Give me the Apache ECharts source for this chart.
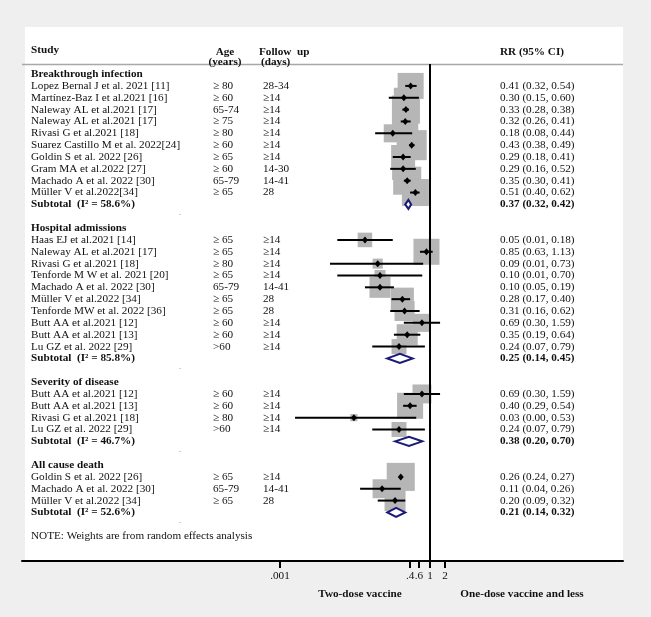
<!DOCTYPE html>
<html><head><meta charset="utf-8">
<script src="https://cdn.jsdelivr.net/npm/echarts@6/dist/echarts.min.js"></script>
<style>html,body{margin:0;padding:0;background:#efefef}#c{width:651px;height:617px}</style>
</head><body><div id="c"></div>
<script>
// ---------------- DATA ----------------
const groupNames = ['Breakthrough infection', 'Hospital admissions', 'Severity of disease', 'All cause death'];
const groupSizes = [10, 10, 4, 3];
const groupI2 = [58.6, 85.8, 46.7, 52.6];
const subtotalRR = [0.37, 0.25, 0.38, 0.21];
const subtotalLower = [0.32, 0.14, 0.20, 0.14];
const subtotalUpper = [0.42, 0.45, 0.70, 0.32];

const studyNames = [
  'Lopez Bernal J et al. 2021 [11]', 'Martínez-Baz I et al.2021 [16]', 'Naleway AL et al.2021 [17]',
  'Naleway AL et al.2021 [17]', 'Rivasi G et al.2021 [18]', 'Suarez Castillo M et al. 2022[24]',
  'Goldin S et al. 2022 [26]', 'Gram MA et al.2022 [27]', 'Machado A et al. 2022 [30]', 'Müller V et al.2022[34]',
  'Haas EJ et al.2021 [14]', 'Naleway AL et al.2021 [17]', 'Rivasi G et al.2021 [18]', 'Tenforde M W et al. 2021 [20]',
  'Machado A et al. 2022 [30]', 'Müller V et al.2022 [34]', 'Tenforde MW et al. 2022 [36]', 'Butt AA et al.2021 [12]',
  'Butt AA et al.2021 [13]', 'Lu GZ et al. 2022 [29]',
  'Butt AA et al.2021 [12]', 'Butt AA et al.2021 [13]', 'Rivasi G et al.2021 [18]', 'Lu GZ et al. 2022 [29]',
  'Goldin S et al. 2022 [26]', 'Machado A et al. 2022 [30]', 'Müller V et al.2022 [34]'
];
const ageLabels = [
  '≥ 80', '≥ 60', '65-74', '≥ 75', '≥ 80', '≥ 60', '≥ 65', '≥ 60', '65-79', '≥ 65',
  '≥ 65', '≥ 65', '≥ 80', '≥ 65', '65-79', '≥ 65', '≥ 65', '≥ 60', '≥ 60', '>60',
  '≥ 60', '≥ 60', '≥ 80', '>60',
  '≥ 65', '65-79', '≥ 65'
];
const followLabels = [
  '28-34', '≥14', '≥14', '≥14', '≥14', '≥14', '≥14', '14-30', '14-41', '28',
  '≥14', '≥14', '≥14', '≥14', '14-41', '28', '28', '≥14', '≥14', '≥14',
  '≥14', '≥14', '≥14', '≥14',
  '≥14', '14-41', '28'
];
const rrValues = [
  0.41, 0.30, 0.33, 0.32, 0.18, 0.43, 0.29, 0.29, 0.35, 0.51,
  0.05, 0.85, 0.09, 0.10, 0.10, 0.28, 0.31, 0.69, 0.35, 0.24,
  0.69, 0.40, 0.03, 0.24,
  0.26, 0.11, 0.20
];
const ciLower = [
  0.32, 0.15, 0.28, 0.26, 0.08, 0.38, 0.18, 0.16, 0.30, 0.40,
  0.014, 0.63, 0.01, 0.014, 0.05, 0.17, 0.16, 0.30, 0.19, 0.07,
  0.30, 0.29, 0.002, 0.07,
  0.24, 0.04, 0.09
];
const ciUpper = [
  0.54, 0.60, 0.38, 0.41, 0.44, 0.49, 0.41, 0.52, 0.41, 0.62,
  0.18, 1.13, 0.73, 0.70, 0.19, 0.40, 0.62, 1.59, 0.64, 0.79,
  1.59, 0.54, 0.53, 0.79,
  0.27, 0.26, 0.32
];
// relative box weights
const weights = [
  10.6, 6.3, 12.3, 10.6, 5.1, 14.1, 9.0, 7.6, 12.3, 11.4,
  3.3, 10.6, 1.6, 1.9, 6.9, 8.3, 6.3, 5.1, 6.9, 3.5,
  5.6, 10.6, 0.8, 3.5,
  12.3, 5.6, 6.9
];
const tickValues = [0.001, 0.4, 0.6, 1, 2];
const tickLabels = ['.001', '.4', '.6', '1', '2'];
const noteText = 'NOTE: Weights are from random effects analysis';
const leftLabel = 'Two-dose vaccine';
const rightLabel = 'One-dose vaccine and less';

// ---------------- BUILD ROWS ----------------
const rows = [];
let r = 0, s = 0;
groupNames.forEach((g, gi) => {
  rows.push({ type: 'header', row: r++, gi });
  for (let k = 0; k < groupSizes[gi]; k++, s++) rows.push({ type: 'study', row: r++, i: s });
  rows.push({ type: 'subtotal', row: r++, gi });
  rows.push({ type: 'blank', row: r++ });
});
rows.push({ type: 'note', row: r++ });

const L = Math.log10;
const studyRows = rows.filter(o => o.type === 'study');
const subRows = rows.filter(o => o.type === 'subtotal');
const studyData = studyRows.map(o => [L(rrValues[o.i]), L(ciLower[o.i]), L(ciUpper[o.i]), o.row, weights[o.i]]);
const subData = subRows.map(o => [L(subtotalRR[o.gi]), L(subtotalLower[o.gi]), L(subtotalUpper[o.gi]), o.row]);
const fmt = (a, b, c) => `${a.toFixed(2)} (${b.toFixed(2)}, ${c.toFixed(2)})`;

const FONT = '"Liberation Serif", "DejaVu Serif", serif';
const FS = 11.2;
const COL = { study: 31, age: 213, follow: 263, rr: 500, dot: 180 };
const BOX = 8;

function txt(x, y, text, bold, align) {
  return { type: 'text', x, y, style: { text, fontFamily: FONT, fontSize: FS, fontWeight: bold ? 'bold' : 'normal',
    fill: '#111', align: align || 'left', verticalAlign: 'middle' } };
}

const chart = echarts.init(document.getElementById('c'), null, { renderer: 'canvas' });
chart.setOption({
  animation: false,
  backgroundColor: '#efefef',
  graphic: [
    { type: 'rect', z: -10, shape: { x: 25, y: 27, width: 598, height: 534 }, style: { fill: '#ffffff' } },
    { type: 'line', z: -5, shape: { x1: 22, y1: 64.5, x2: 623, y2: 64.5 }, style: { stroke: '#a8a8a8', lineWidth: 1.5 } },
    Object.assign(txt(31, 50, 'Study', true), { z: 5 }),
    Object.assign(txt(225, 52, 'Age', true, 'center'), { z: 5 }),
    Object.assign(txt(225, 62, '(years)', true, 'center'), { z: 5 }),
    Object.assign(txt(259, 52, 'Follow  up', true), { z: 5 }),
    Object.assign(txt(261, 62, '(days)', true), { z: 5 }),
    Object.assign(txt(500, 52, 'RR (95% CI)', true), { z: 5 }),
    Object.assign(txt(360, 594, leftLabel, true, 'center'), { z: 5 }),
    Object.assign(txt(522, 594, rightLabel, true, 'center'), { z: 5 })
  ],
  grid: { left: 22, right: 28, top: 64, bottom: 56, containLabel: false },
  xAxis: {
    type: 'value', min: (22 - 430) / 50, max: (623 - 430) / 50, position: 'bottom',
    axisLine: { show: true, onZero: false, lineStyle: { color: '#000', width: 2 } },
    axisTick: { show: true, customValues: tickValues.map(L), length: 7, inside: false, lineStyle: { color: '#000', width: 2 } },
    axisLabel: { show: true, customValues: tickValues.map(L), margin: 10, color: '#111', fontFamily: FONT, fontSize: FS,
      formatter: v => { let bi = 0; tickValues.forEach((t, i) => { if (Math.abs(L(t) - v) < Math.abs(L(tickValues[bi]) - v)) bi = i; }); return tickLabels[bi]; } },
    splitLine: { show: false }
  },
  yAxis: { type: 'value', inverse: true, min: -0.85, max: 41.1, show: false, axisLine: { onZero: false }, splitLine: { show: false } },
  series: [
    { // weight boxes
      type: 'custom', clip: false, z: 2, data: studyData,
      renderItem: (p, api) => {
        const c = api.coord([api.value(0), api.value(3)]);
        const sd = BOX * Math.sqrt(api.value(4));
        return { type: 'rect', shape: { x: c[0] - sd / 2, y: c[1] - sd / 2, width: sd, height: sd }, style: { fill: '#b6b6b6' } };
      },
      markLine: { silent: true, symbol: 'none', label: { show: false }, lineStyle: { color: '#000', width: 2, type: 'solid' }, data: [{ xAxis: 0 }] }
    },
    { // CI lines + point estimates
      type: 'custom', clip: false, z: 3, data: studyData,
      renderItem: (p, api) => {
        const c = api.coord([api.value(0), api.value(3)]);
        const lo = api.coord([api.value(1), api.value(3)]);
        const hi = api.coord([api.value(2), api.value(3)]);
        return { type: 'group', children: [
          { type: 'line', shape: { x1: lo[0], y1: c[1], x2: hi[0], y2: c[1] }, style: { stroke: '#000', lineWidth: 2 } },
          { type: 'polygon', shape: { points: [[c[0], c[1] - 3.5], [c[0] + 3, c[1]], [c[0], c[1] + 3.5], [c[0] - 3, c[1]]] }, style: { fill: '#000' } }
        ] };
      }
    },
    { // subtotal diamonds
      type: 'custom', clip: false, z: 4, data: subData,
      renderItem: (p, api) => {
        const c = api.coord([api.value(0), api.value(3)]);
        const lo = api.coord([api.value(1), api.value(3)]);
        const hi = api.coord([api.value(2), api.value(3)]);
        return { type: 'polygon', shape: { points: [[lo[0], c[1]], [c[0], c[1] - 4.5], [hi[0], c[1]], [c[0], c[1] + 4.5]] },
          style: { fill: '#fff', stroke: '#1a1a78', lineWidth: 2 } };
      }
    },
    { // table text
      type: 'custom', clip: false, z: 5, data: rows.map(o => [0, o.row]),
      renderItem: (p, api) => {
        const o = rows[p.dataIndex];
        const y = api.coord([0, api.value(1)])[1];
        const ch = [];
        if (o.type === 'header') ch.push(txt(COL.study, y, groupNames[o.gi], true));
        else if (o.type === 'study') {
          ch.push(txt(COL.study, y, studyNames[o.i]));
          ch.push(txt(COL.age, y, ageLabels[o.i]));
          ch.push(txt(COL.follow, y, followLabels[o.i]));
          ch.push(txt(COL.rr, y, fmt(rrValues[o.i], ciLower[o.i], ciUpper[o.i])));
        } else if (o.type === 'subtotal') {
          ch.push(txt(COL.study, y, `Subtotal  (I² = ${groupI2[o.gi].toFixed(1)}%)`, true));
          ch.push(txt(COL.rr, y, fmt(subtotalRR[o.gi], subtotalLower[o.gi], subtotalUpper[o.gi]), true));
        } else if (o.type === 'blank') {
          ch.push({ type: 'text', x: COL.dot, y: y - 3, style: { text: '.', fontSize: 8, fill: '#666', align: 'center', verticalAlign: 'middle' } });
        } else if (o.type === 'note') ch.push(txt(COL.study, y, noteText));
        return { type: 'group', children: ch };
      }
    }
  ]
});
</script></body></html>
